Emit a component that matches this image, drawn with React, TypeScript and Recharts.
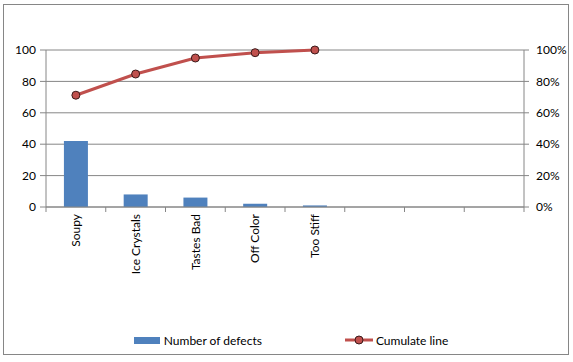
import { ComposedChart, Bar, Line, XAxis, YAxis, CartesianGrid, Legend } from 'recharts';

// Pareto data
const categories = ['Soupy', 'Ice Crystals', 'Tastes Bad', 'Off Color', 'Too Stiff', '', '', ''];
const defects = [42, 8, 6, 2, 1, null, null, null];
const cumulative = [71.2, 84.7, 94.9, 98.3, 100, null, null, null];
const leftTicks = [0, 20, 40, 60, 80, 100];
const rightTicks = [0, 20, 40, 60, 80, 100];

const chartData = categories.map((name, i) => ({
  name,
  defects: defects[i],
  cumulative: cumulative[i],
}));

const FONT = 'Lato, "Open Sans", sans-serif';
const AXIS = '#868686';
const BAR = '#4F81BD';
const LINE = '#C0504D';

// Excel puts the category tick marks between categories, not under them
const CategoryTick = (props: any) => {
  const { x, y, payload, index } = props;
  const half = payload?.offset || 0;
  const axisY = y - 7;
  return (
    <g>
      <line x1={x - half} y1={axisY} x2={x - half} y2={axisY + 5} stroke={AXIS} />
      {index === categories.length - 1 && (
        <line x1={x + half} y1={axisY} x2={x + half} y2={axisY + 5} stroke={AXIS} />
      )}
      <text
        x={x}
        y={y}
        dy="0.35em"
        transform={`rotate(-90, ${x}, ${y})`}
        textAnchor="end"
        fontSize={12}
        fontFamily={FONT}
        fill="#000"
      >
        {payload.value}
      </text>
    </g>
  );
};

const LegendContent = () => (
  <div
    style={{
      display: 'flex',
      justifyContent: 'center',
      alignItems: 'center',
      height: 20,
      paddingLeft: 9,
      fontFamily: FONT,
      fontSize: 12,
      color: '#000',
    }}
  >
    <div style={{ display: 'flex', alignItems: 'center', marginRight: 83 }}>
      <div style={{ width: 26, height: 7, background: BAR, marginRight: 4 }} />
      <span>Number of defects</span>
    </div>
    <div style={{ display: 'flex', alignItems: 'center' }}>
      <svg width={28} height={10} style={{ marginRight: 3 }}>
        <line x1={0} y1={5} x2={28} y2={5} stroke={LINE} strokeWidth={3} />
        <circle cx={14} cy={5} r={4} fill={LINE} stroke="#3a1a1a" strokeWidth={1} />
      </svg>
      <span>Cumulate line</span>
    </div>
  </div>
);

export default function App() {
  return (
    <div style={{ position: 'absolute', left: 0, top: 0, width: 573, height: 362, background: '#fff' }}>
      <div
        style={{
          position: 'absolute',
          left: 3,
          top: 4,
          width: 566,
          height: 351,
          border: `1px solid ${AXIS}`,
          boxSizing: 'border-box',
        }}
      />
      <div style={{ position: 'absolute', left: 0, top: 0 }}>
        <ComposedChart
          width={573}
          height={362}
          data={chartData}
          margin={{ top: 50, right: 0, bottom: 12, left: 0 }}
          barCategoryGap="30%"
        >
          <CartesianGrid yAxisId="left" vertical={false} stroke={AXIS} />
          <XAxis
            dataKey="name"
            height={123}
            interval={0}
            tickLine={false}
            tickSize={5}
            tickMargin={2}
            axisLine={{ stroke: AXIS }}
            tick={<CategoryTick />}
          />
          <YAxis
            yAxisId="left"
            width={46}
            domain={[0, 100]}
            ticks={leftTicks}
            tickSize={6}
            tickMargin={4}
            axisLine={{ stroke: AXIS }}
            tickLine={{ stroke: AXIS }}
            tick={{ fill: '#000', fontSize: 12, fontFamily: FONT }}
          />
          <YAxis
            yAxisId="right"
            orientation="right"
            width={49}
            domain={[0, 100]}
            ticks={rightTicks}
            tickFormatter={(v: number) => `${v}%`}
            tickSize={5}
            tickMargin={7}
            axisLine={{ stroke: AXIS }}
            tickLine={{ stroke: AXIS }}
            tick={{ fill: '#000', fontSize: 12, fontFamily: FONT, textAnchor: 'start' }}
          />
          <Legend verticalAlign="bottom" height={20} content={<LegendContent />} />
          <Bar yAxisId="left" dataKey="defects" fill={BAR} isAnimationActive={false} />
          <Line
            yAxisId="right"
            dataKey="cumulative"
            stroke={LINE}
            strokeWidth={3}
            dot={{ r: 4, fill: LINE, stroke: '#3a1a1a', strokeWidth: 1 }}
            activeDot={false}
            isAnimationActive={false}
          />
        </ComposedChart>
      </div>
    </div>
  );
}
